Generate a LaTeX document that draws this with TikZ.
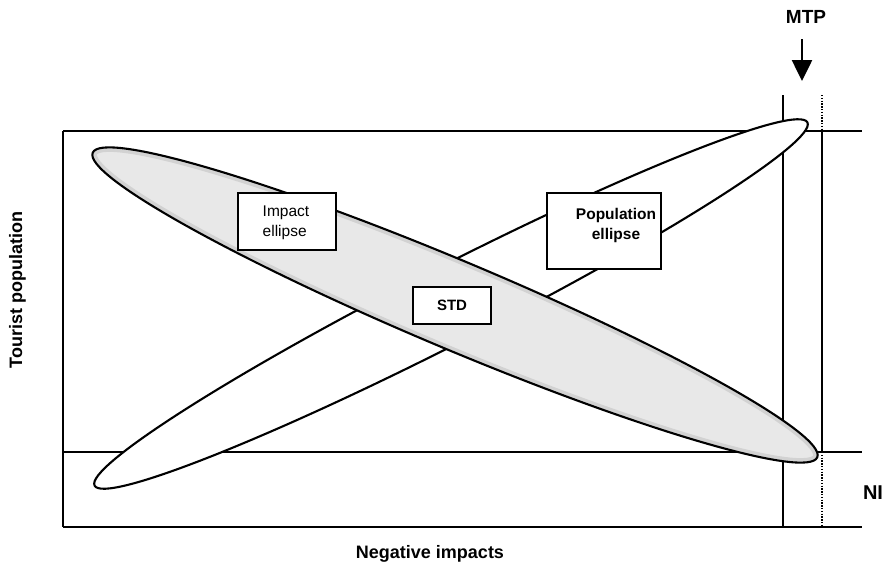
\documentclass[tikz,border=0pt]{standalone}
\usepackage{fontspec}
\setmainfont{Liberation Sans}
\usetikzlibrary{arrows.meta}
\begin{document}
\begin{tikzpicture}[x=1pt,y=-1pt,
  frame/.style={line width=2.1pt},
  dotline/.style={line width=1.6pt, dash pattern=on 1.4pt off 1.4pt},
  outline/.style={line width=2.1pt},
  labelbox/.style={draw, line width=2.1pt, fill=white, inner sep=0pt},
  boxtext/.style={inner sep=0pt, font=\fontsize{15.5}{19.5}\selectfont},
  axistext/.style={inner sep=0pt, font=\bfseries\fontsize{18}{22}\selectfont}]
\useasboundingbox (0,0) rectangle (892,563);
% frame coordinates
\coordinate (tl) at (63,131);
\coordinate (tr) at (862,131);
\coordinate (ml) at (63,452);
\coordinate (mr) at (862,452);
\coordinate (bl) at (63,527);
\coordinate (br) at (862,527);
\coordinate (vAtop) at (783,95);
\coordinate (vAbot) at (783,527);
\coordinate (vBtop) at (822,95);
\coordinate (vBup) at (822,131);
\coordinate (vBlow) at (822,452);
\coordinate (vBbot) at (822,527);
\draw[frame] (tl) -- (tr);
\draw[frame] (ml) -- (mr);
\draw[frame] (bl) -- (br);
\draw[frame] (tl) -- (bl);
\draw[frame] (vAtop) -- (vAbot);
\draw[frame] (vBup) -- (vBlow);
\draw[dotline] (vBtop) -- (vBup);
\draw[dotline] (vBlow) -- (vBbot);
% population ellipse
\draw[outline, fill=white, rotate around={27:(451,304)}] (451,304) ellipse [x radius=400, y radius=38];
% impact ellipse
\fill[gray!18, rotate around={-22.8:(455,305)}] (455,305) ellipse [x radius=393, y radius=44];
\begin{scope}
  \clip[rotate around={-22.8:(455,305)}] (455,305) ellipse [x radius=393, y radius=44];
  \draw[gray!35, line width=9pt, rotate around={-22.8:(455,305)}] (455,305) ellipse [x radius=393, y radius=44];
\end{scope}
\draw[outline, rotate around={-22.8:(455,305)}] (455,305) ellipse [x radius=393, y radius=44];
% boxes
\node[labelbox, minimum width=98pt, minimum height=57pt] (impbox) at (287,221.5) {};
\node[boxtext, align=left] (imptext) at (286,223) {Impact\\ellipse};
\node[labelbox, minimum width=114pt, minimum height=76pt] (popbox) at (604,231) {};
\node[boxtext, align=center, font=\bfseries\fontsize{15.5}{20}\selectfont] (poptext) at (616,225) {Population\\ellipse};
\node[labelbox, minimum width=78pt, minimum height=37pt, font=\bfseries\fontsize{15}{18}\selectfont] (std) at (452,305.5) {STD};
% MTP arrow
\node[axistext, font=\bfseries\fontsize{19}{22}\selectfont] (mtp) at (806,17) {MTP};
\coordinate (arrS) at (802,39);
\coordinate (arrE) at (802,81);
\draw[line width=2.6pt, -{Triangle[width=20pt,length=21pt]}] (arrS) -- (arrE);
% labels
\node[axistext, font=\bfseries\fontsize{20}{22}\selectfont] (ni) at (873,493) {NI};
\node[axistext, anchor=base] (xlab) at (430,558) {Negative impacts};
\node[axistext, anchor=base, rotate=90] (ylab) at (22,290) {Tourist population};
\end{tikzpicture}
\end{document}
